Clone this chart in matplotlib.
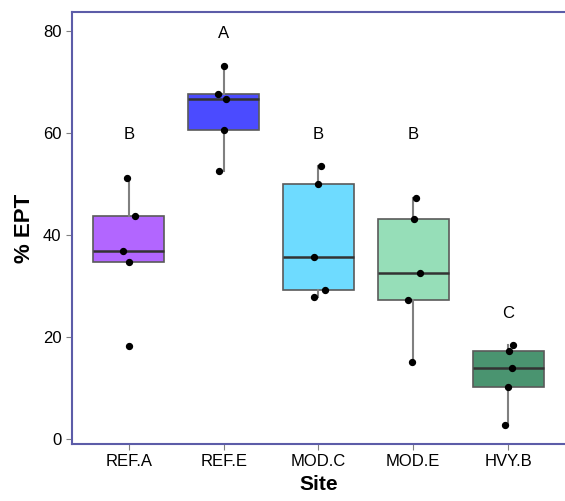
import numpy as np
import matplotlib
matplotlib.use("Agg")
import matplotlib.pyplot as plt

plt.rcParams['font.family'] = ['Liberation Sans', 'DejaVu Sans']

sites = ['REF.A', 'REF.E', 'MOD.C', 'MOD.E', 'HVY.B']
ref_a = [18.3, 34.8, 37.0, 43.8, 51.2]
ref_e = [52.7, 60.6, 66.7, 67.8, 73.3]
mod_c = [28.0, 29.3, 35.7, 50.1, 53.6]
mod_e = [15.2, 27.4, 32.6, 43.2, 47.3]
hvy_b = [2.8, 10.2, 14.0, 17.3, 18.5]
# horizontal jitter of the points (in category units)
jitter = [[0.0, 0.0, -0.06, 0.06, -0.02],
          [-0.045, 0.0, 0.02, -0.065, 0.007],
          [-0.05, 0.068, -0.05, 0.0, 0.026],
          [-0.013, -0.055, 0.073, 0.01, 0.028],
          [-0.028, -0.005, 0.04, 0.014, 0.047]]
letters = ['B', 'A', 'B', 'B', 'C']
letter_y = [59.7, 79.6, 59.7, 59.7, 24.7]
colors = ['#B266FF', '#4B4BFF', '#6EDBFF', '#96DEB8', '#4A9470']

data = [ref_a, ref_e, mod_c, mod_e, hvy_b]
pos = np.arange(len(sites))

fig = plt.figure(figsize=(5.65, 5.01), dpi=100)
ax = fig.add_axes([0.1274, 0.1138, 0.8726, 0.8622])

bp = ax.boxplot(data, positions=pos, widths=0.75, patch_artist=True,
                showfliers=False, whis=1.5,
                medianprops=dict(color='#333333', linewidth=1.8),
                whiskerprops=dict(color='#808080', linewidth=1.5),
                capprops=dict(linewidth=0),
                boxprops=dict(edgecolor='#5a5a5a', linewidth=1.2))
for patch, c in zip(bp['boxes'], colors):
    patch.set_facecolor(c)

for i, vals in enumerate(data):
    ax.scatter(pos[i] + np.array(jitter[i]), vals, s=18, color='black', zorder=5)
    ax.text(pos[i], letter_y[i], letters[i], ha='center', va='center', fontsize=12)

ax.set_xlim(-0.6, 4.6)
ax.set_ylim(-0.9, 83.8)
ax.set_yticks([0, 20, 40, 60, 80])
ax.set_xticks(pos)
ax.set_xticklabels(sites)
ax.tick_params(axis='both', labelsize=12, color='#808080', length=4)
ax.set_xlabel('Site', fontsize=15, fontweight='bold')
ax.set_ylabel('% EPT', fontsize=16, fontweight='bold', labelpad=6)

for s in ['left', 'top', 'bottom']:
    ax.spines[s].set_color('#5C5CA8')
    ax.spines[s].set_linewidth(1.5)
ax.spines['right'].set_visible(False)

plt.savefig('out.png', dpi=100)
